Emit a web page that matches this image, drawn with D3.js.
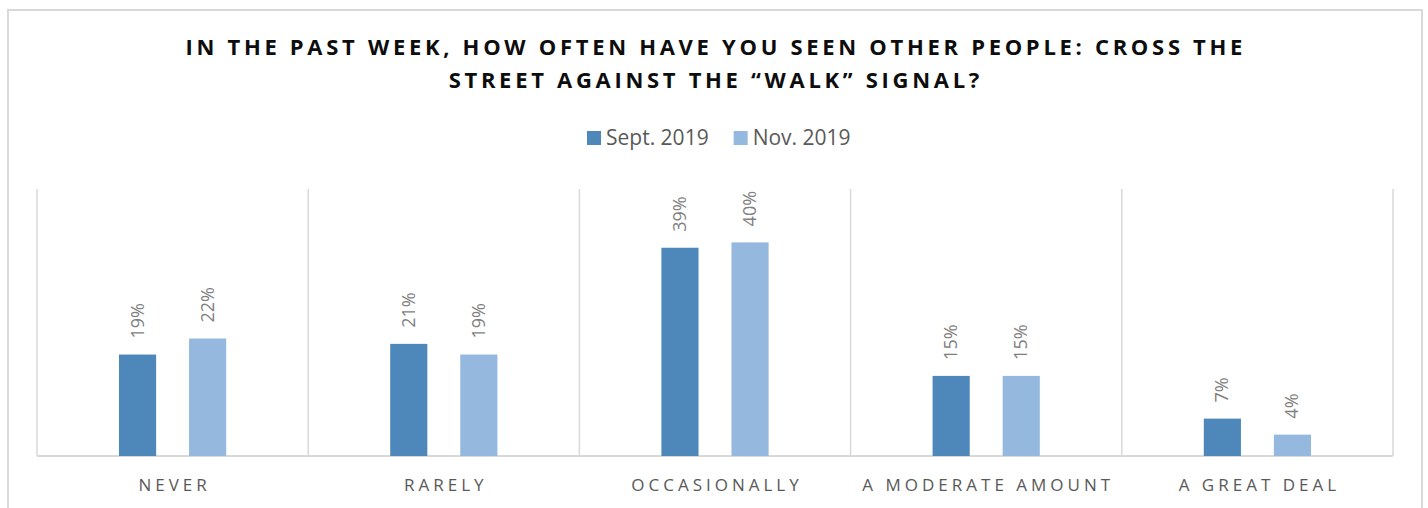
<!DOCTYPE html>
<html>
<head>
<meta charset="utf-8">
<script src="https://cdn.jsdelivr.net/npm/d3@7"></script>
<style>
  html, body { margin: 0; padding: 0; background: #fff; }
  svg { display: block; font-family: "Open Sans", sans-serif; }
</style>
</head>
<body>
<svg id="chart" width="1428" height="508"></svg>
<script>
const categories = ["NEVER", "RARELY", "OCCASIONALLY", "A MODERATE AMOUNT", "A GREAT DEAL"];
const seriesNames = ["Sept. 2019", "Nov. 2019"];
const sept2019 = [0.19, 0.21, 0.39, 0.15, 0.07];
const nov2019 = [0.22, 0.19, 0.40, 0.15, 0.04];
const titleLines = [
  "IN THE PAST WEEK, HOW OFTEN HAVE YOU SEEN OTHER PEOPLE: CROSS THE",
  "STREET AGAINST THE \u201CWALK\u201D SIGNAL?"
];

const colors = ["#4e88bb", "#95b8df"];
const svg = d3.select("#chart");
const width = +svg.attr("width");

// chart frame
svg.append("rect")
  .attr("x", 8).attr("y", 10)
  .attr("width", 1414).attr("height", 530)
  .attr("fill", "none")
  .attr("stroke", "#d9d9d9")
  .attr("stroke-width", 2);

// title
const title = svg.append("text")
  .attr("text-anchor", "middle")
  .style("font-size", "22px")
  .style("font-weight", 700)
  .style("letter-spacing", "3.7px")
  .attr("fill", "#0d0d0d");
titleLines.forEach((line, i) => {
  title.append("tspan")
    .attr("x", width / 2 + 1.8)
    .attr("y", 55 + i * 33)
    .text(line);
});

// legend
const legend = svg.append("g").attr("transform", "translate(587,131)");
let lx = 0;
seriesNames.forEach((name, i) => {
  const g = legend.append("g").attr("transform", `translate(${lx},0)`);
  g.append("rect").attr("width", 14).attr("height", 14).attr("fill", colors[i]);
  const t = g.append("text")
    .attr("x", 19).attr("y", 14)
    .style("font-size", "21px")
    .attr("fill", "#595959")
    .text(name);
  lx += 19 + t.node().getComputedTextLength() + 25;
});

const margin = { left: 37, right: 35, top: 189, bottom: 52 };
const plotRight = width - margin.right;
const plotBottom = 508 - margin.bottom;

const x0 = d3.scaleBand()
  .domain(categories)
  .range([margin.left, plotRight]);

const x1 = d3.scaleBand()
  .domain(seriesNames)
  .range([0, x0.bandwidth()])
  .paddingInner(0.47)
  .paddingOuter(1.17);

const y = d3.scaleLinear()
  .domain([0, 0.5])
  .range([plotBottom, margin.top]);

// vertical category separators
const grid = svg.append("g").attr("stroke", "#d9d9d9").attr("stroke-width", 1.5);
const edges = categories.map(c => x0(c)).concat([plotRight]);
grid.selectAll("line")
  .data(edges)
  .join("line")
  .attr("x1", d => d).attr("x2", d => d)
  .attr("y1", y(0.5)).attr("y2", y(0));

// baseline
svg.append("line")
  .attr("x1", margin.left).attr("x2", plotRight)
  .attr("y1", y(0)).attr("y2", y(0))
  .attr("stroke", "#d9d9d9")
  .attr("stroke-width", 2);

const rows = categories.map((c, i) => ({ cat: c, vals: [sept2019[i], nov2019[i]] }));

const groups = svg.append("g").selectAll("g")
  .data(rows)
  .join("g")
  .attr("transform", d => `translate(${x0(d.cat)},0)`);

groups.selectAll("rect")
  .data(d => d.vals.map((v, i) => ({ series: seriesNames[i], v, i })))
  .join("rect")
  .attr("x", d => x1(d.series))
  .attr("width", x1.bandwidth())
  .attr("y", d => y(d.v))
  .attr("height", d => y(0) - y(d.v))
  .attr("fill", d => colors[d.i]);

groups.selectAll("text")
  .data(d => d.vals.map((v, i) => ({ series: seriesNames[i], v, i })))
  .join("text")
  .attr("transform", d => `translate(${x1(d.series) + x1.bandwidth() / 2 + 6},${y(d.v) - 16}) rotate(-90)`)
  .attr("text-anchor", "start")
  .style("font-size", "18px")
  .attr("fill", "#7f7f7f")
  .text(d => d3.format(".0%")(d.v));

// category axis labels
svg.append("g").selectAll("text")
  .data(categories)
  .join("text")
  .attr("x", d => x0(d) + x0.bandwidth() / 2 + 2)
  .attr("y", 491)
  .attr("text-anchor", "middle")
  .style("font-size", "17px")
  .style("letter-spacing", "4px")
  .attr("fill", "#595959")
  .text(d => d);
</script>
</body>
</html>
